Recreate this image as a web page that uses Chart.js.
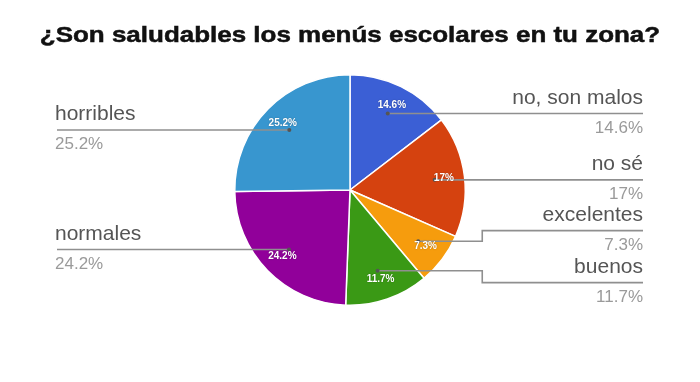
<!DOCTYPE html>
<html>
<head>
<meta charset="utf-8">
<script src="https://cdn.jsdelivr.net/npm/chart.js@4.4.1/dist/chart.umd.min.js"></script>
<style>
  html, body { margin: 0; padding: 0; background: #fff; }
</style>
</head>
<body>
<canvas id="grafico" width="700" height="382"></canvas>
<script>
// ===== DATOS =====
const titulo = '¿Son saludables los menús escolares en tu zona?';
const respuestas = ['no, son malos', 'no sé', 'excelentes', 'buenos', 'normales', 'horribles'];
const porcentajes = [14.6, 17, 7.3, 11.7, 24.2, 25.2];
const colores = ['#3b5fd5', '#d5420f', '#f69c0d', '#3a9915', '#91009a', '#3896cf'];

const FUENTE = '"Liberation Sans", Arial, sans-serif';

// Título dibujado a mano (la fuente original es más ancha que Arial)
const tituloPlugin = {
  id: 'tituloAncho',
  afterDraw(chart) {
    const ctx = chart.ctx;
    ctx.save();
    ctx.font = 'bold 22px ' + FUENTE;
    ctx.fillStyle = '#111';
    ctx.strokeStyle = '#111';
    ctx.lineWidth = 0.5;
    ctx.textAlign = 'center';
    ctx.textBaseline = 'alphabetic';
    ctx.translate(chart.width / 2, 42);
    ctx.scale(1.18, 1);
    ctx.fillText(titulo, 0, 0);
    ctx.strokeText(titulo, 0, 0);
    ctx.restore();
  }
};

// Etiquetas con líneas guía, al estilo de Google Forms
const etiquetasPlugin = {
  id: 'etiquetasGuia',
  afterDatasetsDraw(chart) {
    const ctx = chart.ctx;
    const meta = chart.getDatasetMeta(0);
    const margenIzq = 55;
    const margenDer = chart.width - 57;
    const GAP = 52;

    const items = meta.data.map((arc, i) => {
      const p = arc.getProps(['x', 'y', 'startAngle', 'endAngle', 'outerRadius'], true);
      const mid = (p.startAngle + p.endAngle) / 2;
      const r = p.outerRadius;
      return {
        i, cx: p.x, cy: p.y, r,
        ax: p.x + Math.cos(mid) * r * 0.74,
        ay: p.y + Math.sin(mid) * r * 0.74,
        tx: p.x + Math.cos(mid) * r * 0.82,
        ty: p.y + Math.sin(mid) * r * 0.82,
        derecha: Math.cos(mid) >= 0
      };
    });

    // separar etiquetas que se pisan
    [true, false].forEach(lado => {
      const grupo = items.filter(it => it.derecha === lado).sort((a, b) => a.ay - b.ay);
      grupo.forEach(it => { it.ly = it.ay; });
      for (let n = 0; n < 20; n++) {
        for (let k = 0; k < grupo.length - 1; k++) {
          const diff = grupo[k + 1].ly - grupo[k].ly;
          if (diff < GAP) {
            const d = (GAP - diff) / 2;
            grupo[k].ly -= d;
            grupo[k + 1].ly += d;
          }
        }
      }
    });

    ctx.save();
    // líneas
    items.forEach(it => {
      ctx.strokeStyle = '#8f8f8f';
      ctx.lineWidth = 1.6;
      ctx.beginPath();
      ctx.moveTo(it.ax, it.ay);
      const fin = it.derecha ? margenDer : margenIzq + 2;
      if (Math.abs(it.ly - it.ay) > 3) {
        const bx = it.derecha ? it.cx + it.r + 17 : it.cx - it.r - 17;
        ctx.lineTo(bx, it.ay);
        ctx.lineTo(bx, it.ly);
        ctx.lineTo(fin, it.ly);
      } else {
        ctx.lineTo(fin, it.ay);
        it.ly = it.ay;
      }
      ctx.stroke();
      ctx.fillStyle = '#555';
      ctx.beginPath();
      ctx.arc(it.ax, it.ay, 2, 0, Math.PI * 2);
      ctx.fill();
    });

    // porcentajes dentro de las porciones
    ctx.font = 'bold 10px ' + FUENTE;
    ctx.textAlign = 'center';
    ctx.textBaseline = 'middle';
    ctx.shadowColor = 'rgba(0,0,0,0.35)';
    ctx.shadowBlur = 1.5;
    ctx.fillStyle = '#fff';
    items.forEach(it => {
      ctx.fillText(porcentajes[it.i] + '%', it.tx, it.ty);
    });
    ctx.shadowBlur = 0;
    ctx.shadowColor = 'transparent';

    // textos exteriores
    ctx.textBaseline = 'alphabetic';
    items.forEach(it => {
      const x = it.derecha ? margenDer : margenIzq;
      ctx.textAlign = it.derecha ? 'right' : 'left';
      ctx.font = '21px ' + FUENTE;
      ctx.fillStyle = '#555';
      ctx.fillText(respuestas[it.i], x, it.ly - 10);
      ctx.font = '17px ' + FUENTE;
      ctx.fillStyle = '#9a9a9a';
      ctx.fillText(porcentajes[it.i] + '%', x, it.ly + 19);
    });
    ctx.restore();
  }
};

new Chart(document.getElementById('grafico'), {
  type: 'pie',
  data: {
    labels: respuestas,
    datasets: [{
      data: porcentajes,
      backgroundColor: colores,
      borderColor: '#ffffff',
      borderWidth: 1.5
    }]
  },
  options: {
    responsive: false,
    animation: false,
    layout: { padding: { top: 74, bottom: 76, left: 0, right: 0 } },
    plugins: {
      legend: { display: false },
      tooltip: { enabled: false },
      title: { display: false }
    }
  },
  plugins: [tituloPlugin, etiquetasPlugin]
});
</script>
</body>
</html>
